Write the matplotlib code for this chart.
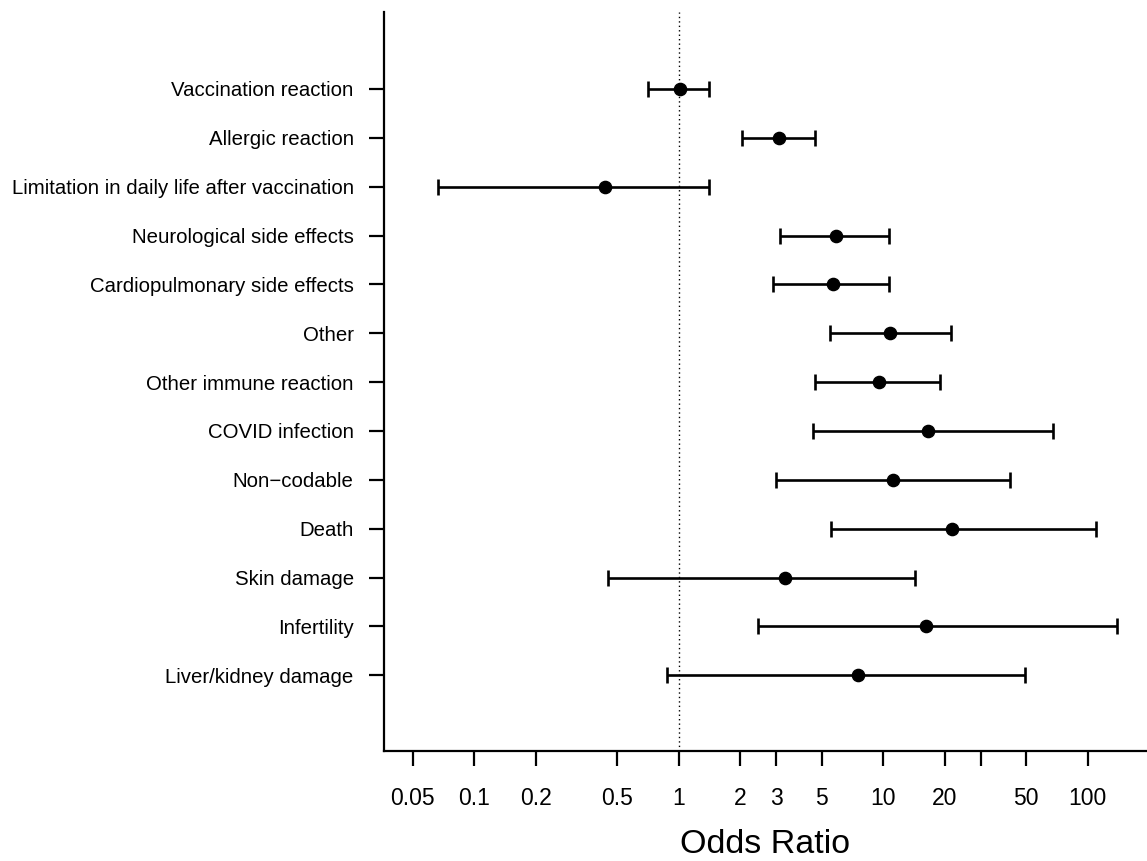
import numpy as np
import matplotlib
matplotlib.use("Agg")
import matplotlib.pyplot as plt

plt.rcParams['font.family'] = ['Liberation Sans', 'DejaVu Sans']

# categories, top to bottom
labels = ['Vaccination reaction', 'Allergic reaction',
          'Limitation in daily life after vaccination',
          'Neurological side effects', 'Cardiopulmonary side effects',
          'Other', 'Other immune reaction', 'COVID infection',
          'Non\u2212codable', 'Death', 'Skin damage', 'Infertility',
          'Liver/kidney damage']
odds = [1.015, 3.085, 0.435, 5.89, 5.70, 10.81, 9.52, 16.5, 11.14, 21.7, 3.32, 16.1, 7.49]
ci_low = [0.708, 2.04, 0.0662, 3.13, 2.89, 5.49, 4.65, 4.55, 2.99, 5.53, 0.450, 2.45, 0.873]
ci_high = [1.41, 4.62, 1.40, 10.73, 10.73, 21.5, 19.0, 67.4, 41.5, 109.3, 14.3, 139.5, 49.4]

xticks = [0.05, 0.1, 0.2, 0.5, 1, 2, 3, 5, 10, 20, 30, 50, 100]
xticklabels = ['0.05', '0.1', '0.2', '0.5', '1', '2', '3', '5', '10', '20', '', '50', '100']

odds = np.array(odds)
lo = np.array(ci_low)
hi = np.array(ci_high)
ypos = np.arange(len(labels))[::-1] + 1  # top row is highest

fig = plt.figure(figsize=(11.47, 8.61), dpi=100)
ax = fig.add_axes([0.3348, 0.1278, 0.6652, 0.8583])

ax.axvline(1, color='black', lw=1.0, linestyle=(0, (1, 2.2)), zorder=1)
ax.errorbar(odds, ypos, xerr=[odds - lo, hi - odds], fmt='o', color='black',
            ms=8.8, elinewidth=1.9, capsize=6, capthick=1.9, zorder=3)

ax.set_xscale('log')
ax.set_xlim(0.0362, 195)
ax.set_ylim(-0.55, 14.576)
ax.set_xticks(xticks)
ax.set_xticklabels(xticklabels)
ax.xaxis.set_minor_locator(matplotlib.ticker.NullLocator())
ax.set_yticks(ypos)
ax.set_yticklabels(labels)

for s in ['top', 'right']:
    ax.spines[s].set_visible(False)
for s in ['left', 'bottom']:
    ax.spines[s].set_linewidth(1.6)

ax.tick_params(axis='x', length=10.8, width=1.6, pad=15, labelsize=16.5)
ax.tick_params(axis='y', length=10.8, width=1.6, pad=11, labelsize=14.7)
ax.set_xlabel('Odds Ratio', fontsize=24.5, labelpad=14)

fig.savefig('out.png', dpi=100)
